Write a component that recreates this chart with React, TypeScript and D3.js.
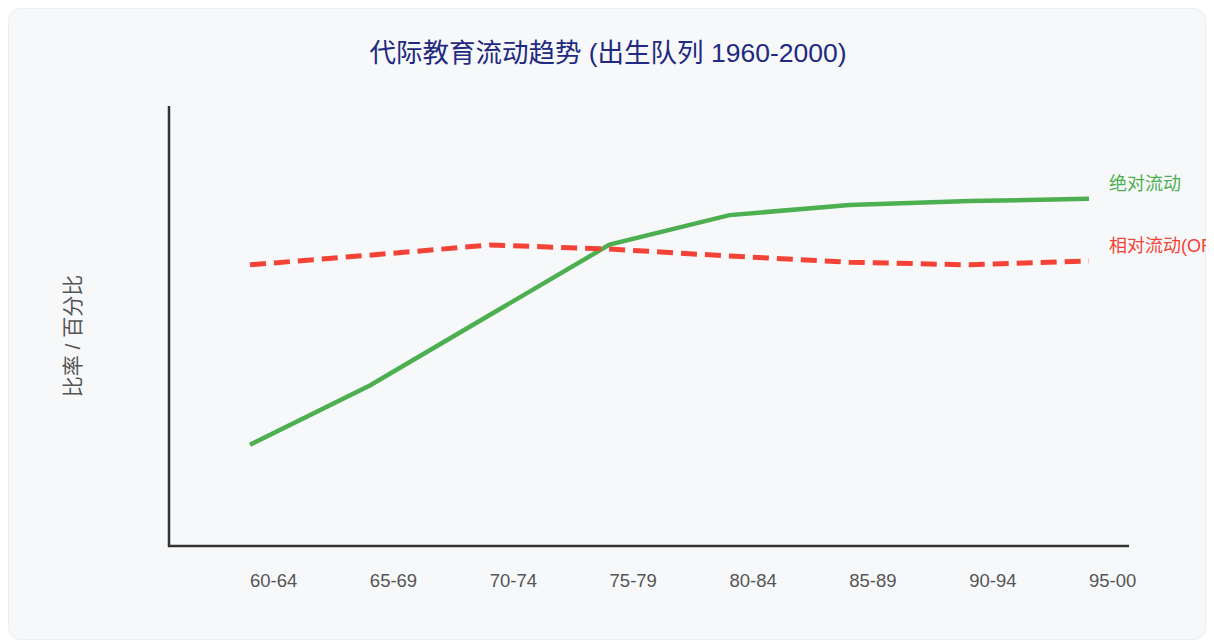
import * as d3 from "d3";
import { useEffect, useRef } from "react";

const cohorts = ["60-64", "65-69", "70-74", "75-79", "80-84", "85-89", "90-94", "95-00"];
const absoluteMobility = [23, 36.5, 52.5, 68.5, 75.2, 77.5, 78.4, 78.9];
const relativeMobility = [63.9, 66.1, 68.4, 67.5, 65.9, 64.5, 63.9, 64.8];
const seriesNames = ["绝对流动", "相对流动(OR)"];
const seriesColors = ["#4caf50", "#f44336"];

const W = 1198;
const H = 632;
const FONT = "'Liberation Sans', 'Noto Sans CJK SC', sans-serif";

const App = () => {
    const ref = useRef<SVGSVGElement | null>(null);

    useEffect(() => {
        const svg = d3.select(ref.current);
        svg.selectAll("*").remove();

        svg.append("rect")
            .attr("x", 0.5).attr("y", 0.5)
            .attr("width", W - 1).attr("height", H - 1)
            .attr("rx", 12)
            .attr("fill", "#f7f8fa")
            .attr("stroke", "#eceef2");

        const x = d3.scalePoint<string>().domain(cohorts).range([242, 1081]);
        const y = d3.scaleLinear().domain([0, 100]).range([538, 98]);

        svg.append("text")
            .attr("x", 600).attr("y", 54)
            .attr("text-anchor", "middle")
            .style("font-family", FONT)
            .style("font-size", "26.5px")
            .attr("fill", "#1f2a80")
            .text("代际教育流动趋势 (出生队列 1960-2000)");

        // axes
        svg.append("line")
            .attr("x1", 161).attr("x2", 161)
            .attr("y1", 98).attr("y2", 539)
            .attr("stroke", "#333").attr("stroke-width", 2.5);
        svg.append("line")
            .attr("x1", 160).attr("x2", 1121)
            .attr("y1", 538).attr("y2", 538)
            .attr("stroke", "#333").attr("stroke-width", 2.5);

        svg.append("g")
            .selectAll("text")
            .data(cohorts)
            .enter()
            .append("text")
            .attr("x", d => x(d)!)
            .attr("y", 579)
            .style("font-family", FONT)
            .style("font-size", "18.5px")
            .attr("fill", "#555")
            .text(d => d);

        svg.append("text")
            .attr("transform", "translate(72, 328) rotate(-90)")
            .attr("text-anchor", "middle")
            .style("font-family", FONT)
            .style("font-size", "21px")
            .attr("fill", "#555")
            .text("比率 / 百分比");

        const line = d3.line<number>()
            .x((_, i) => x(cohorts[i])!)
            .y(d => y(d));

        [absoluteMobility, relativeMobility].forEach((vals, k) => {
            svg.append("path")
                .datum(vals)
                .attr("d", line)
                .attr("fill", "none")
                .attr("stroke", seriesColors[k])
                .attr("stroke-width", k === 0 ? 4.5 : 5)
                .attr("stroke-dasharray", k === 1 ? "16,8" : null);

            const last = vals[vals.length - 1];
            svg.append("text")
                .attr("x", x(cohorts[cohorts.length - 1])! + 20)
                .attr("y", y(last) - 9)
                .style("font-family", FONT)
                .style("font-size", "18px")
                .attr("fill", seriesColors[k])
                .text(seriesNames[k]);
        });
    }, []);

    return <svg ref={ref} width={W} height={H} style={{ display: "block" }}></svg>;
};

export default App;
